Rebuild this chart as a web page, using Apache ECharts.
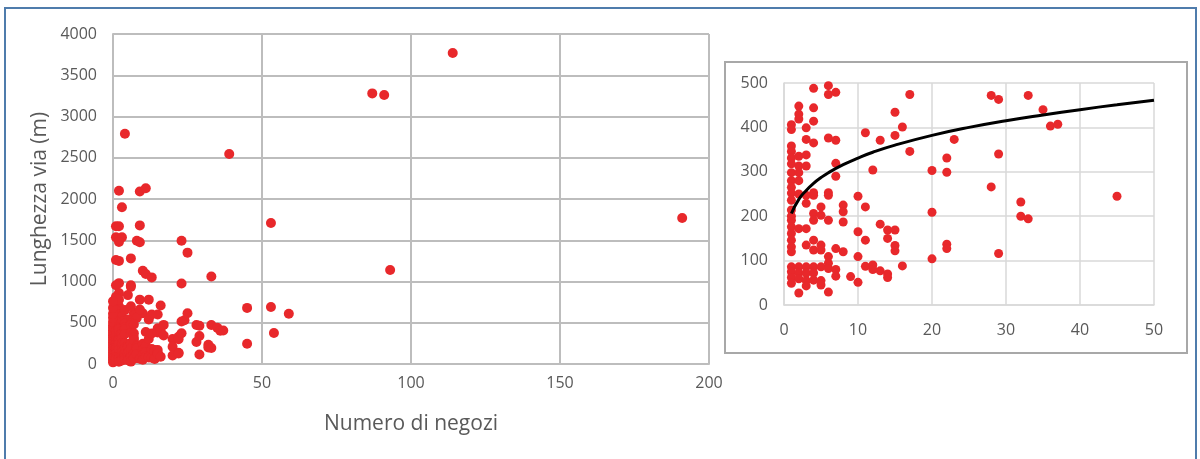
<!DOCTYPE html>
<html>
<head>
<meta charset="utf-8">
<script src="https://cdn.jsdelivr.net/npm/echarts@6/dist/echarts.min.js"></script>
<style>
  html, body { margin: 0; padding: 0; background: #ffffff; }
  #chart { width: 1200px; height: 459px; }
</style>
</head>
<body>
<div id="chart"></div>
<script>
// Streets with 1 to 50 shops and up to 500 m length: [shops, length in m]
const shortStreets = [
  [1,406],[1,395],[1,358],[1,346],[1,331],[1,318],[1,298],[1,280],[1,265],[1,252],[1,236],[1,214],
  [1,200],[1,191],[1,176],[1,161],[1,146],[1,131],[1,120],[1,86],[1,75],[1,62],[1,49],
  [2,448],[2,430],[2,419],[2,335],[2,313],[2,298],[2,280],[2,250],[2,172],[2,86],[2,72],[2,59],[2,27],
  [3,399],[3,373],[3,338],[3,313],[3,247],[3,229],[3,172],[3,135],[3,86],[3,72],[3,55],[3,43],
  [4,488],[4,444],[4,414],[4,365],[4,253],[4,247],[4,206],[4,191],[4,146],[4,124],[4,86],[4,72],[4,56],
  [5,221],[5,202],[5,135],[5,124],[5,86],[5,55],[5,45],
  [6,494],[6,474],[6,376],[6,253],[6,247],[6,191],[6,109],[6,94],[6,82],[6,29],
  [7,479],[7,371],[7,319],[7,290],[7,127],[7,80],[7,65],
  [8,225],[8,210],[8,187],[8,120],
  [9,64],
  [10,245],[10,165],[10,109],[10,51],
  [11,388],[11,221],[11,146],[11,87],
  [12,304],[12,90],[12,80],
  [13,371],[13,182],[13,77],
  [14,169],[14,150],[14,70],[14,62],
  [15,434],[15,382],[15,169],[15,134],[15,122],
  [16,401],[16,88],
  [17,474],[17,346],
  [20,303],[20,209],[20,104],
  [22,331],[22,299],[22,137],[22,127],
  [23,373],
  [28,472],[28,266],
  [29,463],[29,340],[29,116],
  [32,232],[32,200],
  [33,472],[33,194],
  [35,440],[36,403],[37,407],
  [45,245]
];

// Streets without shops: [shops, length in m]
const noShopStreets = [
  [0,20],[0,50],[0,80],[0,110],[0,140],[0,170],[0,200],[0,230],[0,260],[0,290],[0,320],
  [0,350],[0,380],[0,410],[0,440],[0,470],[0,510],[0,560],[0,610],[0,680],[0,760]
];

// Remaining streets (longer than 500 m or more than 50 shops)
const otherStreets = [
  [114,3770],[87,3280],[91,3260],[4,2790],[39,2545],
  [2,2100],[9,2090],[11,2130],[3,1900],
  [1,1670],[2,1670],[9,1680],[1,1535],[3,1535],[2,1480],[8,1495],[9,1475],[23,1495],
  [25,1350],[2,1250],[1,1260],[6,1280],[10,1130],[11,1090],[13,1050],[33,1060],
  [191,1770],[53,1710],[93,1140],
  [2,980],[1,955],[6,955],[23,975],[2,860],[6,935],[5,835],[1,815],[9,780],[12,780],
  [16,710],[15,600],[25,615],[24,530],[23,515],
  [1,800],[1,740],[2,700],[1,650],[2,600],[1,560],[3,575],[4,655],[7,615],[10,615],
  [3,520],[5,540],[8,560],[12,540],[13,600],[1,520],[2,780],[6,700],[9,660],
  [45,680],[53,690],[59,610],[54,375]
];

// Fitted trend curve through the short streets
const trendShops  = [1, 2, 3, 4, 5, 6, 8, 10, 12, 15, 20, 25, 30, 35, 40, 45, 50];
const trendLength = [206, 238, 258, 274, 287, 298, 316, 331, 344, 360, 382, 400, 415, 428, 440, 451, 461];

// Axis ranges and tick steps: [min, max, interval]
const mainShopsTicks  = [0, 200, 50];
const mainLengthTicks = [0, 4000, 500];
const zoomShopsTicks  = [0, 50, 10];
const zoomLengthTicks = [0, 500, 100];

const FONT = 'Open Sans';
const TEXT = '#595959';
const RED = '#e8282b';

const chart = echarts.init(document.getElementById('chart'), null, { renderer: 'canvas' });

function valueAxis(gridIndex, ticks, gridColor, gridWidth, labelMargin, extra) {
  return Object.assign({
    type: 'value',
    gridIndex: gridIndex,
    min: ticks[0],
    max: ticks[1],
    interval: ticks[2],
    axisLine: { show: true, lineStyle: { color: gridColor, width: gridWidth } },
    axisTick: { show: false },
    splitLine: { show: true, lineStyle: { color: gridColor, width: gridWidth } },
    axisLabel: {
      color: TEXT, fontFamily: FONT, fontSize: 16, margin: labelMargin,
      formatter: function (v) { return String(v); }
    }
  }, extra || {});
}

const trendData = trendShops.map(function (x, i) { return [x, trendLength[i]]; });

chart.setOption({
  animation: false,
  backgroundColor: '#ffffff',
  grid: [
    { left: 113, top: 34, width: 596, height: 330 },
    { left: 784, top: 83, width: 370, height: 222 }
  ],
  xAxis: [
    valueAxis(0, mainShopsTicks, '#bdbdbd', 2, 11, {
      name: 'Numero di negozi', nameLocation: 'middle', nameGap: 50,
      nameTextStyle: { color: TEXT, fontFamily: FONT, fontSize: 21 }
    }),
    valueAxis(1, zoomShopsTicks, '#d9d9d9', 1.5, 17)
  ],
  yAxis: [
    valueAxis(0, mainLengthTicks, '#bdbdbd', 2, 16, {
      name: 'Lunghezza via (m)', nameLocation: 'middle', nameGap: 62,
      nameTextStyle: { color: TEXT, fontFamily: FONT, fontSize: 21 }
    }),
    valueAxis(1, zoomLengthTicks, '#d9d9d9', 1.5, 16)
  ],
  graphic: [
    {
      type: 'rect', silent: true, z: -1,
      shape: { x: 5, y: 8, width: 1191, height: 480 },
      style: { fill: null, stroke: '#4f7cac', lineWidth: 2 }
    },
    {
      type: 'rect', silent: true, z: -1,
      shape: { x: 725, y: 62, width: 462, height: 291 },
      style: { fill: '#ffffff', stroke: '#a8a8a8', lineWidth: 2 }
    }
  ],
  series: [
    {
      type: 'scatter', xAxisIndex: 0, yAxisIndex: 0,
      symbolSize: 10, itemStyle: { color: RED, opacity: 1 },
      data: otherStreets.concat(noShopStreets, shortStreets)
    },
    {
      type: 'scatter', xAxisIndex: 1, yAxisIndex: 1,
      symbolSize: 9, itemStyle: { color: RED, opacity: 1 },
      data: shortStreets
    },
    {
      type: 'line', xAxisIndex: 1, yAxisIndex: 1, z: 5,
      smooth: true, showSymbol: false, symbol: 'none',
      lineStyle: { color: '#000000', width: 3 },
      data: trendData
    }
  ]
});
</script>
</body>
</html>
